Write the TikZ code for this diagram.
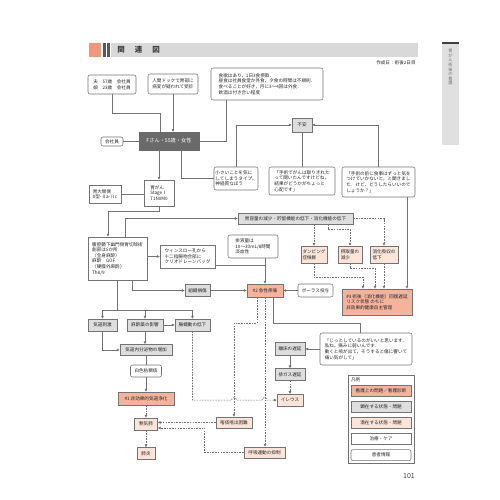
\documentclass[tikz,border=0pt]{standalone}
\usepackage{fontspec}
\setmainfont{Noto Sans CJK JP}
\usetikzlibrary{arrows.meta, positioning}

\definecolor{probc}{HTML}{F5B39C}
\definecolor{latc}{HTML}{FCE4D8}
\definecolor{actc}{HTML}{DEDEDE}
\definecolor{linec}{HTML}{737373}
\definecolor{darkc}{HTML}{6A6A6A}
\definecolor{hdrc}{HTML}{F0977C}

\begin{document}
\begin{tikzpicture}[
    x=1pt, y=-1pt,
    node distance={13pt},
    every node/.style={font=\fontsize{4.6}{5.6}\selectfont, inner sep=1.2pt, text=black!85},
    >={Triangle[length=2.8pt,width=2.6pt]},
    lnk/.style={draw=linec, line width=0.65pt},
    dlnk/.style={dash pattern=on 1.6pt off 1.1pt},
    every edge/.style={draw=linec, line width=0.65pt},
    box/.style={draw=linec, line width=0.55pt, minimum height=11pt},
    prob/.style={box, fill=probc},
    actual/.style={box, fill=actc},
    latent/.style={box, fill=latc},
    care/.style={box, fill=white},
    info/.style={box, fill=white, rounded corners=2pt}
]
\useasboundingbox (0,0) rectangle (500,500);
\fill[white] (0,0) rectangle (500,500);

% header
\fill[hdrc] (89,43) rectangle (101,57);
\fill[black!65] (103,43) rectangle (105.5,57);
\fill[black!65] (107,43) rectangle (109.5,57);
\fill[black!15] (111,43) rectangle (418,57);
\node[anchor=west, font=\fontsize{7.5}{7.5}\bfseries, text=black!75] (title) at (116,50) {関\hspace{10pt}連\hspace{10pt}図};
\node[anchor=east] (date) at (417,62.5) {作成日：術後2日目};
\fill[black!12] (442,42) rectangle (459,145);
\fill[black!75] (442,42) rectangle (459,44);
\node[anchor=north, align=center, font=\fontsize{4.2}{4.6}\selectfont, text=black!55] (tab) at (450.5,48) {胃\\が\\ん\\術\\後\\の\\看\\護};

% patient
\node[info, minimum width=48pt, minimum height=19pt, align=left] (family) at (112,84.5) {夫\quad 57歳\quad 会社員\\娘\quad 23歳\quad 会社員};
\node[info, minimum width=50pt, minimum height=20pt, align=left] (dock) at (173,84) {人間ドックで胃部に\\病変が疑われて受診};
\node[info, minimum width=112pt, minimum height=32pt, align=left] (appetite) at (267,84) {食欲はあり，1日3食摂取．\\昼食は社員食堂か外食，夕食の時間は不規則．\\食べることが好き，月に3～4回は外食．\\飲酒は付き合い程度};
\node[draw=darkc, fill=darkc, minimum width=60pt, minimum height=18pt, font=\fontsize{5.2}{6}\selectfont, text=white] (fsan) at (169,141) {Fさん・55歳・女性};
\node[info, minimum width=22pt, minimum height=9pt] (company) at (112,141.5) {会社員};
\node[actual, minimum width=20pt, minimum height=14pt] (anxiety) at (302,125) {不安};
\node[info, minimum width=44pt, minimum height=23pt, align=left] (nervous) at (236,178.5) {小さいことを気に\\してしまうタイプ，\\神経質なほう};
\node[info, minimum width=66pt, minimum height=28pt, align=left] (worry) at (302,181) {「手術でがんは取りきれた\\って聞いたんですけどね，\\結果がどうかがちょっと\\心配です」};
\node[info, minimum width=73pt, minimum height=30pt, align=left] (diet) at (378.5,182) {「手術の前に食事はずっと気を\\つけていかないと，と聞きまし\\た．けど，どうしたらいいので\\しょうか？」};
\node[care, minimum width=30pt, minimum height=26pt, align=left] (cancer) at (159,193) {胃がん\\StageⅠ\\T1N0M0};
\node[care, minimum width=32pt, minimum height=18pt, align=left] (site) at (105,194) {胃大彎側\\0型-Ⅱa-Ⅱc};

% digestion
\node[actual, minimum width=115pt] (volume) at (295.5,218.5) {胃容量の減少・貯留機能の低下・消化機能の低下};
\node[latent, minimum width=26pt, minimum height=17pt, align=left] (dumping) at (314,254.5) {ダンピング\\症候群};
\node[latent, minimum width=24pt, minimum height=17pt, align=left] (intake) at (350,254.5) {摂取量の\\減少};
\node[latent, minimum width=28pt, minimum height=17pt, align=left] (absorb) at (384,254.5) {消化吸収の\\低下};
\node[prob, minimum width=70pt, minimum height=26pt, align=left] (nd3) at (377,302) {\#3 術後（消化機能）回復遅延\\リスク状態 のちに\\非効果的健康自主管理};

% surgery
\node[care, minimum width=59pt, minimum height=43pt, align=left] (lap) at (117.5,258.5) {腹腔鏡下幽門側胃切除術\\創部は5か所\\〈全身麻酔〉\\麻酔\quad GOF\\〈硬膜外麻酔〉\\Th8/9};
\node[care, minimum width=55pt, minimum height=23pt, align=left] (drain) at (187.5,256.5) {ウィンスロー孔から\\十二指腸吻合部に\\クリオドレーンバッグ};
\node[info, minimum width=50pt, minimum height=23pt, align=left] (fluid) at (253,246.5) {排液量は\\10～30mL/8時間\\淡血性};
\node[actual, minimum width=25pt, minimum height=12pt] (tissue) at (197.5,290.5) {組織損傷};
\node[prob, minimum width=36pt, minimum height=13pt] (nd2) at (265,290.5) {\#2 急性疼痛};
\node[info, minimum width=35pt, minimum height=13pt] (bolus) at (315.5,290.5) {ボーラス投与};

% respiration
\node[actual, minimum width=29pt, minimum height=12pt] (airway) at (102.5,325) {気道刺激};
\node[actual, minimum width=36pt, minimum height=12pt] (anesth) at (145,325) {麻酔薬の影響};
\node[actual, minimum width=35pt, minimum height=12pt] (peristalsis) at (192.5,325) {腸蠕動の低下};
\node[actual, minimum width=52pt] (secretion) at (146,350) {気道内分泌物の増加};
\node[info, minimum width=31pt, minimum height=12pt] (sputum) at (146,371) {白色粘稠痰};
\node[prob, minimum width=56pt, minimum height=13pt] (nd1) at (146,398.5) {\#1 非効果的気道浄化};
\node[latent, minimum width=23pt, minimum height=12pt] (atel) at (146,424) {無気肺};
\node[latent, minimum width=18pt, minimum height=12pt, below=17pt of atel] (pneu) {肺炎};
\node[latent, minimum width=36pt] (sputdiff) at (234,422.5) {喀痰喀出困難};
\node[latent, minimum width=41pt] (resp) at (264.5,452.5) {呼吸運動の抑制};

% mobility
\node[info, minimum width=92pt, minimum height=32pt, align=left] (quiet) at (366,349) {「じっとしているのがいいと思います．\\私ね，痛みに弱いんです．\\動くと咳が出て，そうすると傷に響いて\\痛い気がして」};
\node[actual, minimum width=30pt, minimum height=13pt] (ambul) at (290,348.5) {離床の遅延};
\node[actual, minimum width=30pt, minimum height=12pt, below=13pt of ambul] (gas) {排ガス遅延};
\node[latent, minimum width=26pt, minimum height=12pt, below=13pt of gas] (ileus) {イレウス};

% legend
\node[draw=linec, line width=0.55pt, minimum width=66pt, minimum height=88pt] (legend) at (381,419) {};
\node[anchor=north west] (legendtitle) at ([shift={(2pt,-1.5pt)}]legend.north west) {凡例};
\node[prob, minimum width=60pt] (lg1) at (381,391) {看護上の問題／看護診断};
\node[actual, minimum width=60pt, below=4.5pt of lg1] (lg2) {顕在する状態・問題};
\node[latent, minimum width=60pt, below=4.5pt of lg2] (lg3) {潜在する状態・問題};
\node[care, minimum width=60pt, below=4.5pt of lg3] (lg4) {治療・ケア};
\node[info, minimum width=60pt, below=4.5pt of lg4] (lg5) {患者情報};

\node[font=\fontsize{7}{7}\selectfont, text=black!70] (pageno) at (409,476) {101};

% links
\draw[lnk] (family.south) -- ++(0,19) -| ([xshift=-9pt]fsan.north);
\draw[lnk,->] (dock.south) -- (dock.south |- fsan.north);
\draw[lnk] ([xshift=-41pt]appetite.south) |- (fsan.east);
\draw[lnk] (company.east) -- (company.east -| fsan.west);
\draw[lnk] ([xshift=12pt]fsan.south) |- (nervous.west);
\draw[lnk,->] (nervous.north) |- (anxiety.west);
\draw[lnk] (worry.north) -- (anxiety.south);
\draw[lnk,->] (diet.north) |- (anxiety.east);
\draw[lnk,->] ([xshift=28.5pt]diet.south) -- ([xshift=28.5pt]diet.south |- nd3.north);
\draw[lnk,->] (cancer.north |- fsan.south) -- (cancer.north);
\draw[lnk] (site.east) -- (site.east -| cancer.west);
\draw[lnk,->] (cancer.south) -- ++(0,5) -| ([xshift=-9.5pt]lap.north);
\draw[lnk,->] ([xshift=7.5pt]lap.north) |- (volume.west);

\draw[lnk,dlnk,->] (volume.south -| dumping.north) -- (dumping.north);
\draw[lnk,dlnk,->] ([xshift=32.5pt]volume.south) -- ++(0,5) -| (intake.north);
\draw[lnk,dlnk,->] (volume.east) -| (absorb.north);
\draw[lnk,dlnk,->] (dumping.south) -- ++(0,14) -| ([xshift=-14pt]nd3.north);
\draw[lnk,dlnk,->] (intake.south) -- ++(0,5) -| ([xshift=-2pt]nd3.north);
\draw[lnk,dlnk,->] (absorb.south) -- (absorb.south |- nd3.north);

\draw[lnk,->] (lap.east |- drain.west) -- (drain.west);
\draw[lnk] ([yshift=-8.5pt]drain.east) -| ([xshift=12pt]fluid.south);
\draw[lnk,->] ([xshift=12pt]fluid.south) -- ([xshift=12pt]fluid.south |- nd2.north);
\draw[lnk,->] ([xshift=14.5pt]lap.south) |- (tissue.west);
\path[->] (tissue) edge (nd2)
          (bolus) edge (nd2);

\draw[lnk] (lap.south) -- ++(0,30) coordinate (fork);
\draw[lnk,->] (fork) -| (airway.north);
\draw[lnk,->] (fork) -| (peristalsis.north);
\draw[lnk,->] (fork -| anesth.north) -- (anesth.north);
\draw[lnk,->] (airway.south) |- (secretion.west);
\draw[lnk,->] (anesth.south) -- (anesth.south |- secretion.north);
\path[->] (anesth) edge (peristalsis)
          (secretion) edge[-] (sputum)
          (sputum) edge (nd1)
          (nd1) edge[dlnk] (atel)
          (atel) edge[dlnk] (pneu);

\draw[lnk] ([xshift=8pt]nd2.south) -- ++(0,26) -| ([xshift=-6pt]quiet.north);
\draw[lnk,dlnk,->] ([xshift=-8pt]nd2.south) -- ++(0,26) -| (sputdiff.north);
\draw[lnk,dlnk,->] (nd2.south) -- (nd2.south |- resp.north);
\draw[lnk,dlnk,->] (sputdiff.west) -- (sputdiff.west -| atel.east);
\draw[lnk,dlnk,->] (resp.west) -- ++(-39,0) |- ([yshift=-4pt]atel.east);
\draw[lnk,dlnk,->] (peristalsis.south) |- ([xshift=-2.5pt]sputdiff.north |- ileus.west)
    arc[start angle=180, end angle=0, radius=2.5pt] -- ([xshift=-2.5pt]resp.north |- ileus.west)
    arc[start angle=180, end angle=0, radius=2.5pt] -- (ileus.west);

\draw[lnk,->] (quiet.west) -- (quiet.west -| ambul.east);
\path[->] (ambul) edge (gas)
          (gas) edge[dlnk] (ileus);

\end{tikzpicture}
\end{document}
